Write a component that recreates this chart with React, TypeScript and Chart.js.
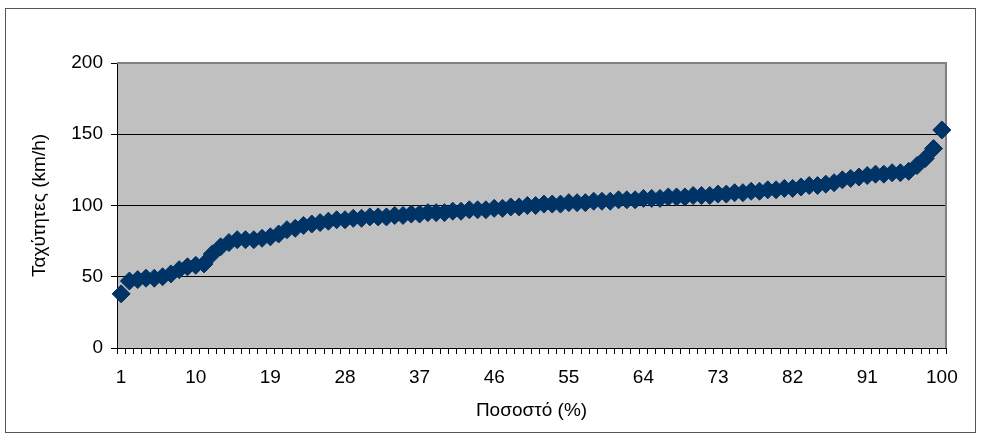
import React, { useEffect, useRef } from "react";
import { Chart, registerables } from "chart.js";

Chart.register(...registerables);

const categories: string[] = Array.from({ length: 100 }, (_, i) => String(i + 1));

const speeds: number[] = [
  38, 47, 48, 49, 49, 50, 52, 55, 57, 58,
  59, 66, 71, 74, 76, 76, 76, 77, 78, 80,
  83, 84, 86, 87, 88, 89, 90, 90, 91, 91,
  92, 92, 92, 93, 93, 94, 94, 95, 95, 95,
  96, 96, 97, 97, 97, 98, 98, 99, 99, 100,
  100, 101, 101, 101, 102, 102, 102, 103, 103, 103,
  104, 104, 104, 105, 105, 105, 106, 106, 106, 107,
  107, 107, 108, 108, 109, 109, 110, 110, 111, 111,
  112, 112, 113, 114, 114, 115, 116, 118, 119, 120,
  121, 122, 122, 123, 123, 124, 128, 133, 140, 153,
];

const yTicks: number[] = [0, 50, 100, 150, 200];
const xLabelEvery = 9;

const xTitle = "Ποσοστό (%)";
const yTitle = "Ταχύτητες (km/h)";

const FONT = "'Liberation Sans', Arial, sans-serif";
const FONT_SIZE = 19;

const backgroundPlugin = {
  id: "bgPlugin",
  beforeDraw(chart: any) {
    const { ctx, chartArea } = chart;
    ctx.save();
    ctx.fillStyle = "#ffffff";
    ctx.fillRect(0, 0, chart.width, chart.height);
    ctx.strokeStyle = "#555555";
    ctx.lineWidth = 1;
    ctx.strokeRect(5.5, 8.5, 970, 424);
    ctx.fillStyle = "#c0c0c0";
    ctx.fillRect(chartArea.left, chartArea.top, chartArea.right - chartArea.left, chartArea.bottom - chartArea.top);
    ctx.restore();
  },
  beforeDatasetsDraw(chart: any) {
    const { ctx, chartArea } = chart;
    ctx.save();
    ctx.strokeStyle = "#808080";
    ctx.lineWidth = 2;
    ctx.beginPath();
    ctx.moveTo(chartArea.left, chartArea.top);
    ctx.lineTo(chartArea.right, chartArea.top);
    ctx.lineTo(chartArea.right, chartArea.bottom);
    ctx.stroke();
    ctx.restore();
  },
};

export default function App() {
  const canvasRef = useRef<HTMLCanvasElement | null>(null);

  useEffect(() => {
    if (!canvasRef.current) return;
    const chart = new Chart(canvasRef.current, {
      type: "line",
      data: {
        labels: categories,
        datasets: [
          {
            data: speeds,
            showLine: false,
            pointStyle: "rectRot",
            pointRadius: 9,
            pointBorderWidth: 1,
            pointBackgroundColor: "#003366",
            pointBorderColor: "#003366",
          },
        ],
      },
      options: {
        animation: false,
        responsive: false,
        maintainAspectRatio: false,
        events: [],
        layout: { padding: { top: 63, right: 36, bottom: 0, left: 0 } },
        plugins: {
          legend: { display: false },
          tooltip: { enabled: false },
          title: { display: false },
        },
        scales: {
          x: {
            type: "category",
            offset: true,
            afterFit: (scale: any) => {
              scale.height = 92;
            },
            grid: {
              offset: true,
              drawOnChartArea: false,
              drawTicks: true,
              tickLength: 6,
              color: "#000000",
              tickColor: "#000000",
            },
            border: { display: true, color: "#000000", width: 1 },
            ticks: {
              autoSkip: false,
              maxRotation: 0,
              minRotation: 0,
              padding: 12,
              color: "#000000",
              font: { family: FONT, size: FONT_SIZE },
              callback: (_v: any, i: number) => (i % xLabelEvery === 0 ? categories[i] : ""),
            },
            title: {
              display: true,
              text: xTitle,
              color: "#000000",
              font: { family: FONT, size: FONT_SIZE },
              padding: { top: 0, bottom: 18 },
            },
          },
          y: {
            type: "linear",
            min: yTicks[0],
            max: yTicks[yTicks.length - 1],
            afterFit: (scale: any) => {
              scale.width = 117;
            },
            afterBuildTicks: (scale: any) => {
              scale.ticks = yTicks.map((v) => ({ value: v }));
            },
            grid: {
              drawTicks: true,
              tickLength: 6,
              color: (c: any) => (c.tick && c.tick.value === 200 ? "#808080" : "#000000"),
              tickColor: "#000000",
            },
            border: { display: true, color: "#000000", width: 1 },
            ticks: {
              padding: 8,
              color: "#000000",
              font: { family: FONT, size: FONT_SIZE },
            },
            title: {
              display: true,
              text: yTitle,
              color: "#000000",
              font: { family: FONT, size: FONT_SIZE },
              padding: { top: 28, bottom: 0 },
            },
          },
        },
      },
      plugins: [backgroundPlugin],
    });
    return () => chart.destroy();
  }, []);

  return (
    <div style={{ position: "absolute", left: 0, top: 0, width: 982, height: 440 }}>
      <canvas ref={canvasRef} width={982} height={440} style={{ width: 982, height: 440, display: "block" }} />
    </div>
  );
}
